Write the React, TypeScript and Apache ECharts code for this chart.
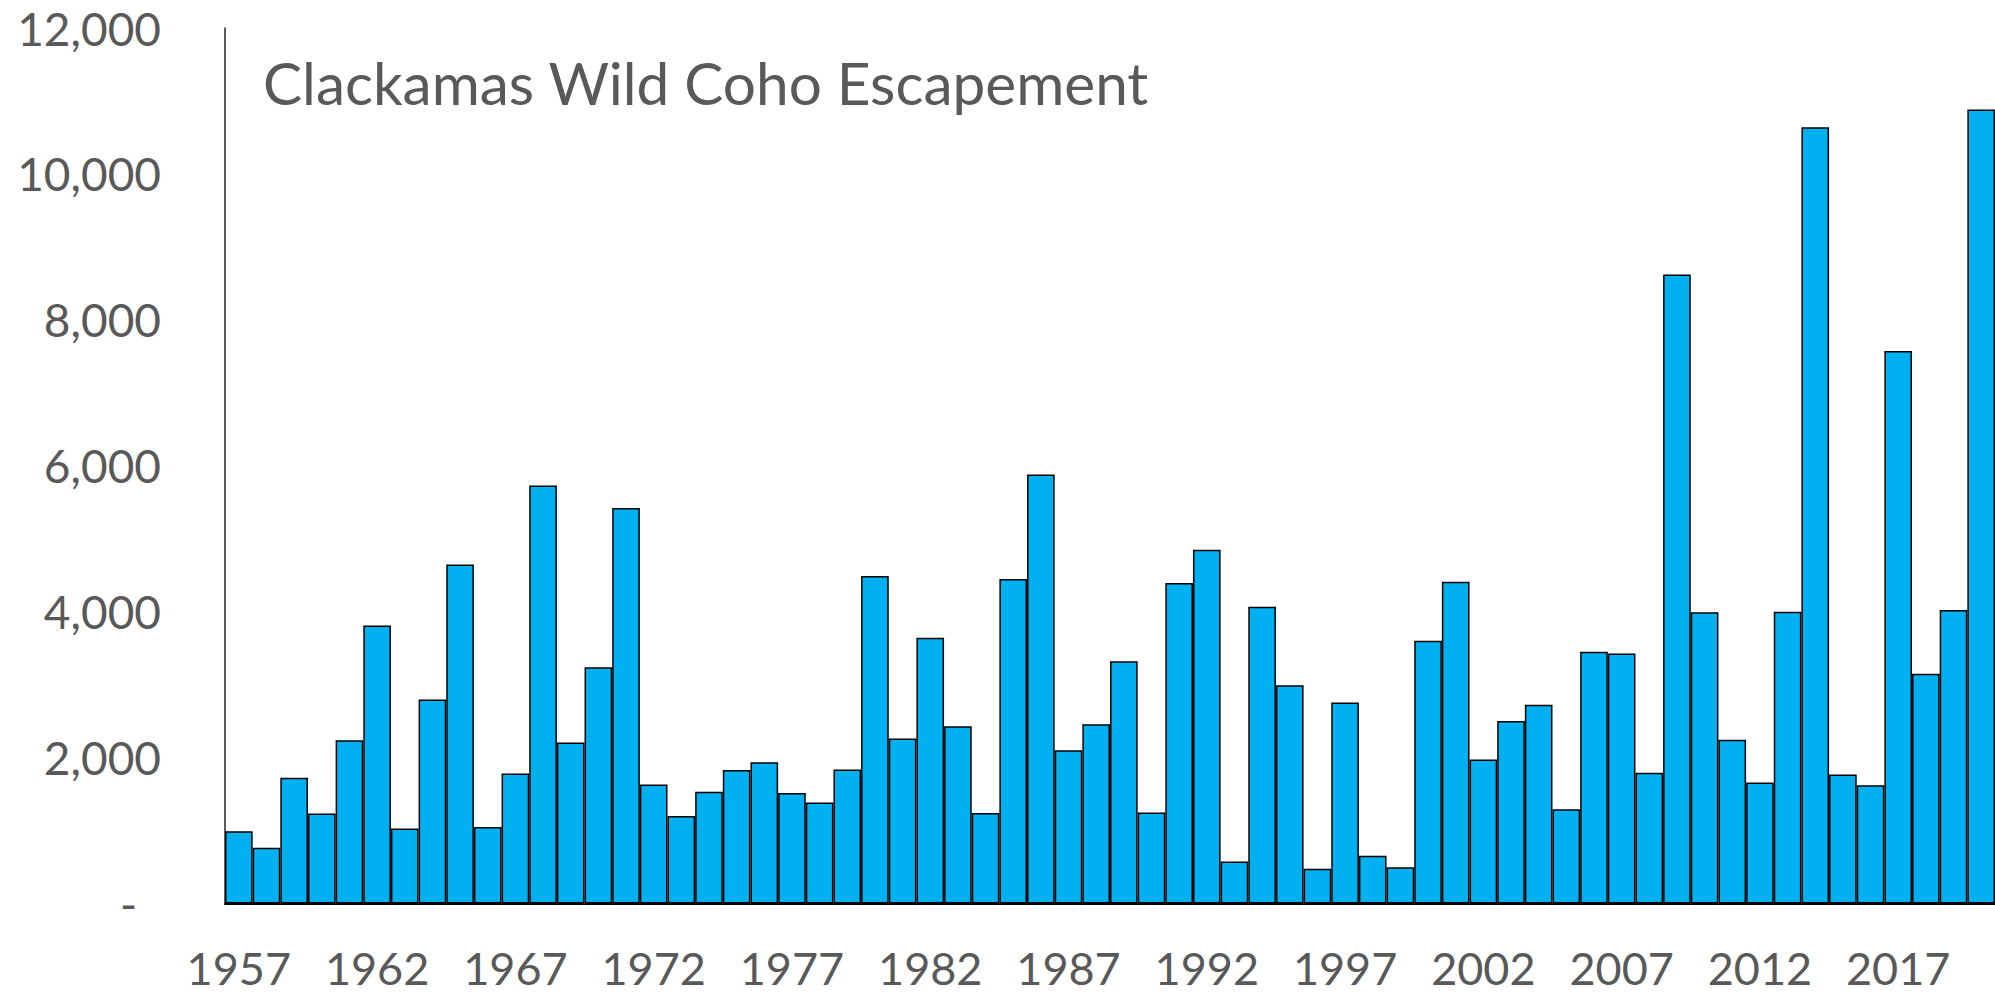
import React, { useEffect, useRef } from "react";
import * as echarts from "echarts";

const years: string[] = [];
for (let y = 1957; y <= 2020; y++) years.push(String(y));

const escapement: number[] = [
  990, 763, 1722, 1233, 2237, 3809, 1027, 2795, 4648, 1050,
  1781, 5731, 2206, 3238, 5420, 1630, 1201, 1530, 1831, 1936,
  1516, 1384, 1836, 4489, 2260, 3644, 2429, 1242, 4448, 5881,
  2100, 2456, 3319, 1247, 4393, 4850, 575, 4069, 2991, 475,
  2754, 653, 497, 3603, 4411, 1973, 2500, 2723, 1292, 3450,
  3428, 1791, 8623, 3992, 2246, 1659, 4000, 10641, 1769, 1622,
  7573, 3148, 4022, 10883,
];

const titleText = "Clackamas Wild Coho Escapement";

export default function App() {
  const ref = useRef<HTMLDivElement>(null);
  useEffect(() => {
    if (!ref.current) return;
    const chart = echarts.init(ref.current, null, { renderer: "svg" });
    const font = "Lato";
    chart.setOption({
      animation: false,
      backgroundColor: "#ffffff",
      grid: { left: 225, right: 0, top: 28, bottom: 92.5, containLabel: false },
      graphic: [
        {
          type: "text",
          left: 263,
          top: 52,
          style: {
            text: titleText,
            font: `58.5px ${font}`,
            fill: "#595959",
          },
        },
      ],
      xAxis: {
        type: "category",
        data: years,
        boundaryGap: true,
        axisLine: { show: true, lineStyle: { color: "#000000", width: 2 } },
        axisTick: { show: false },
        axisLabel: {
          interval: 4,
          fontFamily: font,
          fontSize: 45,
          lineHeight: 45,
          color: "#595959",
          margin: 42,
        },
        splitLine: { show: false },
      },
      yAxis: {
        type: "value",
        min: 0,
        max: 12000,
        interval: 2000,
        axisLine: { show: true, lineStyle: { color: "#262626", width: 1.5 } },
        axisTick: { show: false },
        splitLine: { show: false },
        axisLabel: {
          fontFamily: font,
          fontSize: 46,
          color: "#595959",
          margin: 64,
          formatter: (v: number) =>
            v === 0 ? "{z|-}" : v.toLocaleString("en-US"),
          rich: {
            z: {
              fontFamily: font,
              fontSize: 46,
              color: "#595959",
              padding: [0, 24, 0, 0],
            },
          },
        },
      },
      series: [
        {
          type: "bar",
          data: escapement,
          barCategoryGap: "0%",
          itemStyle: {
            color: "#00B0F0",
            borderColor: "#000000",
            borderWidth: 1.5,
          },
        },
      ],
    });
    return () => chart.dispose();
  }, []);
  return (
    <div
      ref={ref}
      style={{ position: "absolute", left: 0, top: 0, width: 1995, height: 996 }}
    />
  );
}
